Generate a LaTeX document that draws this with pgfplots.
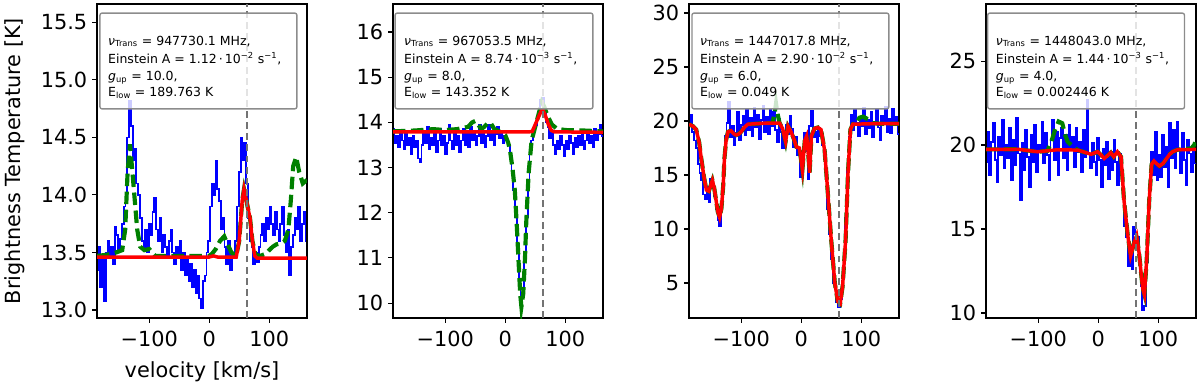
\documentclass[border=0pt]{standalone}
\usepackage{fontspec}
\setmainfont{DejaVu Sans}
\usepackage{pgfplots}
\pgfplotsset{compat=1.18}

\definecolor{mplblue}{HTML}{0000FF}
\definecolor{mplgreen}{HTML}{008000}
\definecolor{mplred}{HTML}{FF0000}

\pgfplotsset{
  panel/.style={
    scale only axis, width=151.2pt, height=226.08pt, anchor=south west,
    xmin=-187, xmax=163,
    xtick={-100,0,100}, xticklabels={−100,0,100},
    tick align=outside, tick pos=left, major tick length=3.5pt,
    tick style={black, line width=0.8pt},
    axis line style={line width=0.8pt},
    tick label style={font=\fontsize{15}{18}\selectfont},
    xticklabel style={yshift=-2.5pt},
  },
  spec/.style={mplblue, line width=1.3pt, const plot mark mid},
  modl/.style={mplgreen, line width=3pt, dash pattern=on 9pt off 4pt},
  fit/.style={mplred, line width=2.5pt},
  vline/.style={black!55, line width=1.3pt, dash pattern=on 5pt off 3pt},
}
\tikzset{
  legbox/.style={draw=black!45, fill=white, fill opacity=0.8, line width=1pt, rounded corners=1.5pt},
  legtxt/.style={anchor=base west, font=\fontsize{9}{11}\selectfont, inner sep=0pt},
}

\begin{document}
\begin{tikzpicture}
\path[use as bounding box] (0,0) rectangle (864pt,281.52pt);

% ---------- panel 1
\begin{axis}[panel, at={(69.84pt,52.56pt)},
  ymin=12.93, ymax=15.66,
  ytick={13,13.5,14,14.5,15,15.5}, yticklabels={13.0,13.5,14.0,14.5,15.0,15.5},
  xlabel={velocity [km/s]}, ylabel={Brightness Temperature [K]},
  every axis x label/.style={at={(axis description cs:0.5,-0.17)}, anchor=center, font=\fontsize{15}{18}\selectfont},
  every axis y label/.style={at={(axis description cs:-0.39,0.5)}, rotate=90, anchor=center, font=\fontsize{15}{18}\selectfont},
]
\addplot[spec] coordinates {
(-186,13.35)(-183,13.55)(-180,13.2)(-177,13.45)(-174,13.08)(-171,13.5)(-168,13.6)(-165,13.45)(-162,13.55)(-159,13.4)
(-156,13.72)(-153,13.65)(-150,13.5)(-147,13.62)(-144,13.75)(-141,13.9)(-138,14.0)(-135,14.5)(-132,14.82)(-129,14.6)
(-126,14.3)(-123,14.4)(-120,14.1)(-117,14.0)(-114,13.8)(-111,13.6)(-108,13.55)(-105,13.7)(-102,13.5)(-99,13.75)
(-96,13.65)(-93,13.85)(-90,13.97)(-87,13.7)(-84,13.6)(-81,13.8)(-78,13.5)(-75,13.65)(-72,13.55)(-69,13.45)
(-66,13.6)(-63,13.7)(-60,13.5)(-57,13.4)(-54,13.55)(-51,13.45)(-48,13.6)(-45,13.35)(-42,13.5)(-39,13.3)
(-36,13.45)(-33,13.25)(-30,13.4)(-27,13.2)(-24,13.35)(-21,13.15)(-18,13.3)(-15,13.1)(-12,13.02)(-9,13.25)
(-6,13.3)(-3,13.5)(0,13.6)(3,13.9)(6,14.1)(9,14.0)(12,14.3)(15,14.05)(18,13.95)(21,13.7)
(24,13.8)(27,13.55)(30,13.4)(33,13.6)(36,13.35)(39,13.5)(42,13.45)(45,13.6)(48,13.9)(51,14.2)
(54,14.5)(57,14.3)(60,14.45)(63,14.1)(66,13.8)(69,13.6)(72,13.55)(75,13.4)(78,13.5)(81,13.42)
(84,13.55)(87,13.65)(90,13.75)(93,13.6)(96,13.8)(99,13.7)(102,13.9)(105,13.75)(108,13.65)(111,13.85)
(114,13.7)(117,13.6)(120,13.75)(123,13.9)(126,13.65)(129,13.5)(132,13.7)(135,13.3)(138,13.55)(141,13.65)
(144,13.8)(147,13.7)(150,13.9)(153,13.6)(156,13.75)(159,13.85)(162,13.6)
};
\addplot[modl] coordinates {
(-187,13.47)(-170,13.48)(-155,13.5)(-145,13.52)(-140,13.7)(-136,14.2)(-132,14.44)(-128,14.2)(-124,13.95)(-120,13.7)
(-115,13.55)(-108,13.52)(-100,13.53)(-95,13.5)(-90,13.47)(-60,13.47)(0,13.47)(5,13.49)(11,13.53)(18,13.6)
(25,13.64)(30,13.58)(37,13.5)(45,13.47)(50,13.6)(55,13.95)(58,14.05)(62,13.95)(68,13.8)(72,13.6)
(77,13.48)(85,13.47)(95,13.49)(100,13.52)(106,13.55)(112,13.57)(120,13.58)(126,13.6)(132,13.7)(136,13.95)
(140,14.25)(145,14.33)(150,14.2)(156,14.1)(163,14.13)
};
\addplot[fit] coordinates {
(-187,13.46)(0,13.46)(7,13.47)(14,13.46)(45,13.46)(50,13.6)(55,13.95)(58,14.05)(62,13.95)(68,13.8)
(72,13.6)(76,13.47)(80,13.45)(163,13.45)
};
\addplot[vline] coordinates {(63.5,12.93)(63.5,15.66)};
\draw[legbox] (axis description cs:0.014,0.666) rectangle (axis description cs:0.952,0.971);
\node[legtxt] at (axis description cs:0.052,0.869) {{\itshape ν}\textsubscript{Trans} = 947730.1 MHz,};
\node[legtxt] at (axis description cs:0.052,0.809) {Einstein A = 1.12\,·\,10\textsuperscript{−2} s\textsuperscript{−1},};
\node[legtxt] at (axis description cs:0.052,0.755) {{\itshape g}\textsubscript{up} = 10.0,};
\node[legtxt] at (axis description cs:0.052,0.704) {E\textsubscript{low} = 189.763 K};
\end{axis}

% ---------- panel 2
\begin{axis}[panel, at={(282.96pt,52.56pt)},
  ymin=9.67, ymax=16.62,
  ytick={10,11,12,13,14,15,16}, yticklabels={10,11,12,13,14,15,16},
]
\addplot[spec] coordinates {
(-186,13.85)(-183,13.55)(-180,13.7)(-177,13.45)(-174,13.8)(-171,13.6)(-168,13.4)(-165,13.75)(-162,13.5)(-159,13.65)
(-156,13.3)(-153,13.7)(-150,13.45)(-147,13.6)(-144,13.2)(-141,13.12)(-138,13.5)(-135,13.75)(-132,13.55)(-129,13.9)
(-126,13.4)(-123,13.65)(-120,13.5)(-117,13.8)(-114,13.35)(-111,13.6)(-108,13.85)(-105,13.5)(-102,13.7)(-99,13.3)
(-96,13.55)(-93,13.95)(-90,13.6)(-87,13.4)(-84,13.8)(-81,13.5)(-78,13.7)(-75,13.35)(-72,13.6)(-69,13.85)
(-66,13.5)(-63,13.75)(-60,13.45)(-57,13.9)(-54,13.6)(-51,13.8)(-48,13.5)(-45,13.7)(-42,13.95)(-39,13.55)
(-36,13.8)(-33,13.45)(-30,13.7)(-27,13.95)(-24,13.6)(-21,13.8)(-18,13.5)(-15,13.75)(-12,13.9)(-9,13.65)
(-6,13.8)(-3,13.55)(0,13.7)(3,13.6)(6,13.5)(9,13.2)(12,12.9)(15,12.5)(18,11.9)(21,11.2)
(24,10.4)(27,9.9)(30,10.2)(33,11.0)(36,11.9)(39,12.7)(42,13.3)(45,13.6)(48,13.85)(51,13.95)
(54,14.1)(57,14.3)(60,14.5)(63,14.55)(66,14.3)(69,14.0)(72,13.9)(75,13.65)(78,13.8)(81,13.5)
(84,13.3)(87,13.6)(90,13.4)(93,13.7)(96,13.5)(99,13.25)(102,13.6)(105,13.4)(108,13.7)(111,13.55)
(114,13.3)(117,13.65)(120,13.45)(123,13.7)(126,13.5)(129,13.75)(132,13.4)(135,13.6)(138,13.8)(141,13.55)
(144,13.7)(147,13.45)(150,13.85)(153,13.6)(156,13.75)(159,13.95)(162,13.7)
};
\addplot[modl] coordinates {
(-187,13.8)(-150,13.82)(-120,13.85)(-100,13.83)(-80,13.85)(-62,13.9)(-55,14.0)(-50,14.03)(-45,13.95)(-40,13.85)
(-35,13.9)(-30,13.97)(-25,14.0)(-18,13.85)(-10,13.8)(0,13.72)(5,13.55)(8,13.38)(12,13.0)(16,12.5)
(19,11.8)(22,11.0)(25,10.2)(27,9.92)(30,10.2)(33,11.0)(35,11.76)(39,12.87)(44,13.6)(50,13.9)
(55,14.15)(61,14.45)(65,14.35)(69,14.2)(74,14.05)(78,13.95)(86,13.86)(100,13.83)(130,13.82)(163,13.8)
};
\addplot[fit] coordinates {
(-187,13.79)(40,13.79)(45,13.8)(50,13.95)(55,14.1)(60,14.25)(63,14.27)(67,14.15)(72,13.95)(77,13.82)
(82,13.79)(163,13.78)
};
\addplot[vline] coordinates {(63.5,9.67)(63.5,16.62)};
\draw[legbox] (axis description cs:0.01,0.666) rectangle (axis description cs:0.952,0.971);
\node[legtxt] at (axis description cs:0.052,0.869) {{\itshape ν}\textsubscript{Trans} = 967053.5 MHz,};
\node[legtxt] at (axis description cs:0.052,0.809) {Einstein A = 8.74\,·\,10\textsuperscript{−3} s\textsuperscript{−1},};
\node[legtxt] at (axis description cs:0.052,0.755) {{\itshape g}\textsubscript{up} = 8.0,};
\node[legtxt] at (axis description cs:0.052,0.704) {E\textsubscript{low} = 143.352 K};
\end{axis}

% ---------- panel 3
\begin{axis}[panel, at={(496.08pt,52.56pt)},
  ymin=1.76, ymax=30.83,
  ytick={5,10,15,20,25,30}, yticklabels={5,10,15,20,25,30},
]
\addplot[spec] coordinates {
(-186,19.9)(-183,20.6)(-180,19.0)(-177,18.2)(-174,17.5)(-171,16.0)(-168,15.2)(-165,14.5)(-162,13.2)(-159,12.8)
(-156,13.9)(-153,12.5)(-150,14.6)(-147,14.2)(-144,13.0)(-141,11.8)(-138,10.8)(-135,10.3)(-132,12.5)(-129,15.5)
(-126,18.6)(-123,19.8)(-120,21.8)(-117,18.5)(-114,19.5)(-111,17.8)(-108,18.9)(-105,20.8)(-102,18.2)(-99,19.6)
(-96,20.5)(-93,18.7)(-90,21.0)(-87,19.2)(-84,20.3)(-81,18.6)(-78,21.2)(-75,19.4)(-72,20.6)(-69,18.3)
(-66,20.1)(-63,21.4)(-60,19.0)(-57,20.4)(-54,18.8)(-51,21.0)(-48,19.5)(-45,20.8)(-42,19.2)(-39,18.0)
(-36,20.2)(-33,19.0)(-30,17.5)(-27,18.2)(-24,19.6)(-21,18.8)(-18,20.5)(-15,19.3)(-12,17.6)(-9,18.5)
(-6,16.8)(-3,17.4)(0,14.8)(3,16.5)(6,18.9)(9,17.2)(12,14.6)(15,19.5)(18,20.9)(21,18.5)
(24,19.0)(27,18.0)(30,19.4)(33,18.6)(36,17.8)(39,16.6)(42,14.5)(45,11.8)(48,9.5)(51,7.2)
(54,5.0)(57,4.6)(60,3.2)(63,2.8)(66,3.5)(69,5.2)(72,7.8)(75,11.0)(78,15.5)(81,18.5)
(84,20.6)(87,19.2)(90,21.0)(93,19.8)(96,18.6)(99,20.4)(102,19.5)(105,21.2)(108,18.8)(111,20.1)
(114,19.3)(117,20.8)(120,18.5)(123,19.9)(126,21.0)(129,19.4)(132,18.2)(135,20.5)(138,19.7)(141,21.3)
(144,19.0)(147,20.2)(150,18.9)(153,21.1)(156,19.6)(159,20.4)(162,18.8)
};
\addplot[modl] coordinates {
(-187,19.7)(-180,19.5)(-175,19.2)(-170,18.0)(-167,16.7)(-162,14.8)(-158,13.6)(-154,13.5)(-151,14.0)(-148,14.5)
(-145,13.8)(-142,12.7)(-139,11.6)(-136,11.1)(-133,11.9)(-130,14.0)(-128,16.5)(-125,18.3)(-122,19.0)(-117,19.1)
(-112,18.8)(-108,18.7)(-104,18.8)(-100,19.0)(-95,19.4)(-89,19.7)(-60,19.8)(-48,19.8)(-44,20.8)(-42,21.6)
(-40,20.8)(-36,19.8)(-31,19.3)(-26,18.1)(-22,19.5)(-17,19.0)(-12,18.3)(-8,17.6)(-3,17.5)(2,15.5)
(6,18.2)(9,18.6)(11,17.5)(14,15.2)(17,18.6)(22,19.3)(28,19.4)(33,19.2)(39,17.3)(44,13.6)
(50,9.0)(56,5.0)(61,3.3)(65,3.1)(69,4.7)(74,9.0)(78,15.2)(82,19.2)(86,19.7)(92,19.75)
(97,20.3)(103,20.4)(110,20.2)(115,20.1)(119,19.8)(130,19.75)(164,19.75)
};
\addplot[fit] coordinates {
(-187,19.7)(-180,19.5)(-175,19.2)(-170,18.0)(-167,16.7)(-162,14.8)(-158,13.6)(-154,13.5)(-151,14.0)(-148,14.5)
(-145,13.8)(-142,12.7)(-139,11.6)(-136,11.1)(-133,11.9)(-130,14.0)(-128,16.5)(-125,18.3)(-122,19.0)(-117,19.1)
(-112,18.8)(-108,18.7)(-104,18.8)(-100,19.0)(-95,19.4)(-89,19.7)(-60,19.8)(-36,19.8)(-31,19.3)(-26,18.1)
(-22,19.5)(-17,19.0)(-12,18.3)(-8,17.6)(-3,17.5)(2,15.5)(6,18.2)(9,18.6)(11,17.5)(14,15.2)
(17,18.6)(22,19.3)(28,19.4)(33,19.2)(39,17.3)(44,13.6)(50,9.0)(56,5.0)(61,3.3)(65,3.1)
(69,4.7)(74,9.0)(78,15.2)(82,19.2)(86,19.7)(120,19.75)(164,19.75)
};
\addplot[vline] coordinates {(63.5,1.76)(63.5,30.83)};
\draw[legbox] (axis description cs:0.014,0.666) rectangle (axis description cs:0.952,0.971);
\node[legtxt] at (axis description cs:0.052,0.869) {{\itshape ν}\textsubscript{Trans} = 1447017.8 MHz,};
\node[legtxt] at (axis description cs:0.052,0.809) {Einstein A = 2.90\,·\,10\textsuperscript{−2} s\textsuperscript{−1},};
\node[legtxt] at (axis description cs:0.052,0.755) {{\itshape g}\textsubscript{up} = 6.0,};
\node[legtxt] at (axis description cs:0.052,0.704) {E\textsubscript{low} = 0.049 K};
\end{axis}

% ---------- panel 4
\begin{axis}[panel, at={(709.92pt,52.56pt)},
  ymin=9.7, ymax=28.4,
  ytick={10,15,20,25}, yticklabels={10,15,20,25},
]
\addplot[spec] coordinates {
(-186,19.0)(-183,20.8)(-180,18.2)(-177,20.2)(-174,21.3)(-171,19.1)(-168,17.8)(-165,20.5)(-162,19.4)(-159,21.5)
(-156,18.6)(-153,20.0)(-150,19.2)(-147,21.0)(-144,17.9)(-141,20.3)(-138,18.8)(-135,21.6)(-132,19.5)(-129,16.7)
(-126,20.1)(-123,18.5)(-120,20.9)(-117,19.3)(-114,17.5)(-111,20.6)(-108,19.0)(-105,21.2)(-102,18.4)(-99,20.0)
(-96,19.6)(-93,21.4)(-90,18.9)(-87,20.7)(-84,19.4)(-81,17.9)(-78,20.3)(-75,21.5)(-72,19.1)(-69,20.8)
(-66,18.2)(-63,20.4)(-60,21.0)(-57,19.2)(-54,20.6)(-51,18.5)(-48,21.2)(-45,19.8)(-42,20.5)(-39,18.7)
(-36,21.0)(-33,19.6)(-30,20.2)(-27,18.4)(-24,20.9)(-21,19.3)(-18,22.7)(-15,19.5)(-12,18.6)(-9,20.1)
(-6,19.0)(-3,18.2)(0,20.4)(3,19.1)(6,17.5)(9,19.8)(12,18.8)(15,20.2)(18,18.0)(21,19.6)
(24,18.5)(27,20.3)(30,19.0)(33,17.6)(36,19.5)(39,18.4)(42,16.8)(45,15.2)(48,14.5)(51,12.8)
(54,14.0)(57,12.6)(60,15.1)(63,14.7)(66,14.5)(69,13.2)(72,11.6)(75,10.2)(78,10.4)(81,13.0)
(84,16.5)(87,17.4)(90,19.6)(93,18.2)(96,20.8)(99,17.9)(102,19.4)(105,18.1)(108,20.6)(111,18.7)
(114,19.9)(117,17.5)(120,21.3)(123,19.2)(126,20.9)(129,18.6)(132,21.4)(135,19.8)(138,18.3)(141,20.7)
(144,19.1)(147,17.6)(150,20.3)(153,19.5)(156,18.4)(159,20.0)(162,18.9)
};
\addplot[modl] coordinates {
(-187,19.74)(-134,19.75)(-101,19.6)(-85,19.65)(-79,20.1)(-72,20.9)(-66,21.4)(-60,21.3)(-55,20.6)(-51,20.2)
(-45,20.0)(-38,19.8)(-34,19.7)(-12,19.45)(-1,19.6)(5,19.4)(10,19.2)(15,19.35)(21,19.55)(26,19.3)
(32,19.6)(38,19.3)(43,16.7)(49,14.7)(54,13.4)(60,14.2)(64,14.6)(68,13.6)(74,11.5)(77,11.1)
(81,13.3)(85,16.7)(89,18.85)(93,19.05)(97,18.9)(102,18.75)(108,18.9)(113,19.15)(119,19.45)(124,19.6)
(132,19.72)(155,19.8)(160,20.0)(164,20.4)
};
\addplot[fit] coordinates {
(-187,19.74)(-134,19.75)(-101,19.6)(-68,19.72)(-34,19.7)(-12,19.45)(-1,19.6)(5,19.4)(10,19.2)(15,19.35)
(21,19.55)(26,19.3)(32,19.6)(38,19.3)(43,16.7)(49,14.7)(54,13.4)(60,14.2)(64,14.6)(68,13.6)
(74,11.5)(77,11.1)(81,13.3)(85,16.7)(89,18.85)(93,19.05)(97,18.9)(102,18.75)(108,18.9)(113,19.15)
(119,19.45)(124,19.6)(132,19.72)(164,19.74)
};
\addplot[vline] coordinates {(63.5,9.7)(63.5,28.4)};
\draw[legbox] (axis description cs:0.008,0.666) rectangle (axis description cs:0.945,0.971);
\node[legtxt] at (axis description cs:0.046,0.869) {{\itshape ν}\textsubscript{Trans} = 1448043.0 MHz,};
\node[legtxt] at (axis description cs:0.046,0.809) {Einstein A = 1.44\,·\,10\textsuperscript{−3} s\textsuperscript{−1},};
\node[legtxt] at (axis description cs:0.046,0.755) {{\itshape g}\textsubscript{up} = 4.0,};
\node[legtxt] at (axis description cs:0.046,0.704) {E\textsubscript{low} = 0.002446 K};
\end{axis}
\end{tikzpicture}
\end{document}
